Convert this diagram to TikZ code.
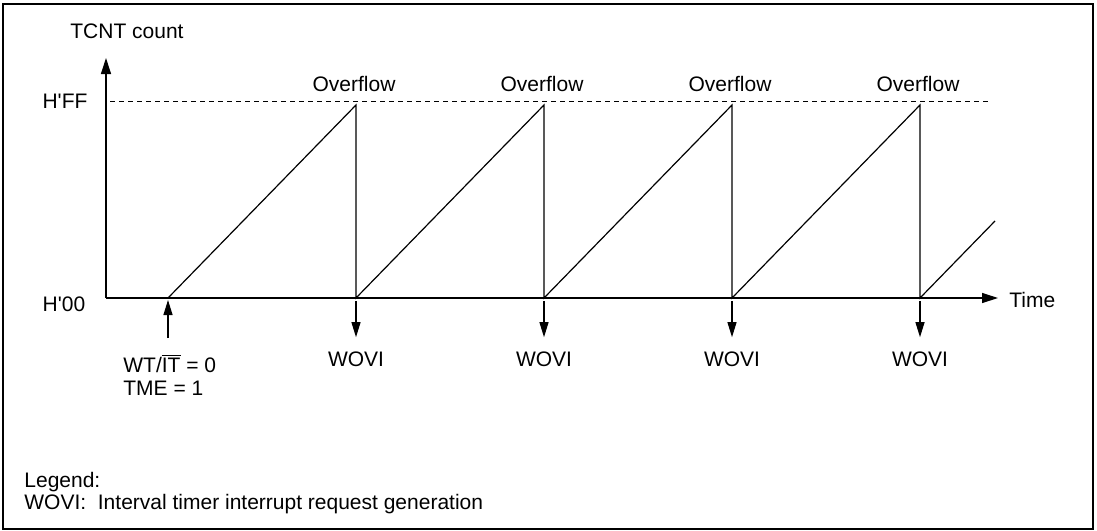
\documentclass[tikz,border=0pt]{standalone}
\usepackage{fontspec}
\setmainfont{Liberation Sans}
\usetikzlibrary{arrows.meta}

\tikzset{
  axis/.style={line width=0.6pt, -{Triangle[length=8pt,width=5pt]}},
  ramp/.style={line width=0.6pt},
  flag/.style={line width=0.6pt, -{Triangle[length=7.5pt,width=4.5pt]}},
  lbl/.style={font=\fontsize{10.5}{11.5}\selectfont, inner sep=0pt}
}

\begin{document}
\begin{tikzpicture}[x=0.5pt, y=-0.5pt]
    \useasboundingbox (0,0) rectangle (1097,530);
    % Frame
    \draw[line width=0.6pt] (3,4) rectangle (1093,529);

    % Axes
    \coordinate (origin) at (106,298);
    \coordinate (ytip) at (106,58);
    \coordinate (xtip) at (998,298);
    \draw[axis] (origin) -- (ytip);
    \draw[axis] (origin) -- (xtip);
    \node[lbl] (ylabel) at (127,31) {TCNT count};
    \node[lbl, anchor=west] (timelabel) at (1009,300) {Time};
    \node[lbl] (hff) at (65,101) {H\textquotesingle FF};
    \node[lbl] (hzero) at (64,304) {H\textquotesingle 00};

    % H'FF level
    \coordinate (ffleft) at (110,101);
    \coordinate (ffright) at (990,101);
    \draw[line width=0.5pt, dash pattern=on 2.5pt off 2pt] (ffleft) -- (ffright);

    % Count ramps
    \draw[ramp] (168,298) -- (356,105) -- (356,298) -- (544,105) -- (544,298)
        -- (732,105) -- (732,298) -- (920,105) -- (920,298) -- (995,221);

    % Overflow and WOVI
    \foreach \x/\n in {356/1, 544/2, 732/3, 920/4} {
        \node[lbl] (ovf\n) at (\x-2,84) {Overflow};
        \coordinate (irq\n) at (\x,301);
        \node[lbl] (wovi\n) at (\x,359) {WOVI};
        \draw[flag, shorten >=7pt] (irq\n) -- (wovi\n.north);
    }

    % Timer start
    \coordinate (trig) at (168,338);
    \coordinate (armed) at (168,300);
    \draw[flag] (trig) -- (armed);
    \node[lbl, align=left, anchor=north west] (start) at (123,354)
        {WT/$\overline{\hbox{IT}}$ = 0\\TME = 1};

    % Legend
    \node[lbl, anchor=west] (legend) at (24,482) {Legend:};
    \node[lbl, anchor=west] (legwovi) at (24,504) {WOVI:\ \ Interval timer interrupt request generation};
\end{tikzpicture}
\end{document}
